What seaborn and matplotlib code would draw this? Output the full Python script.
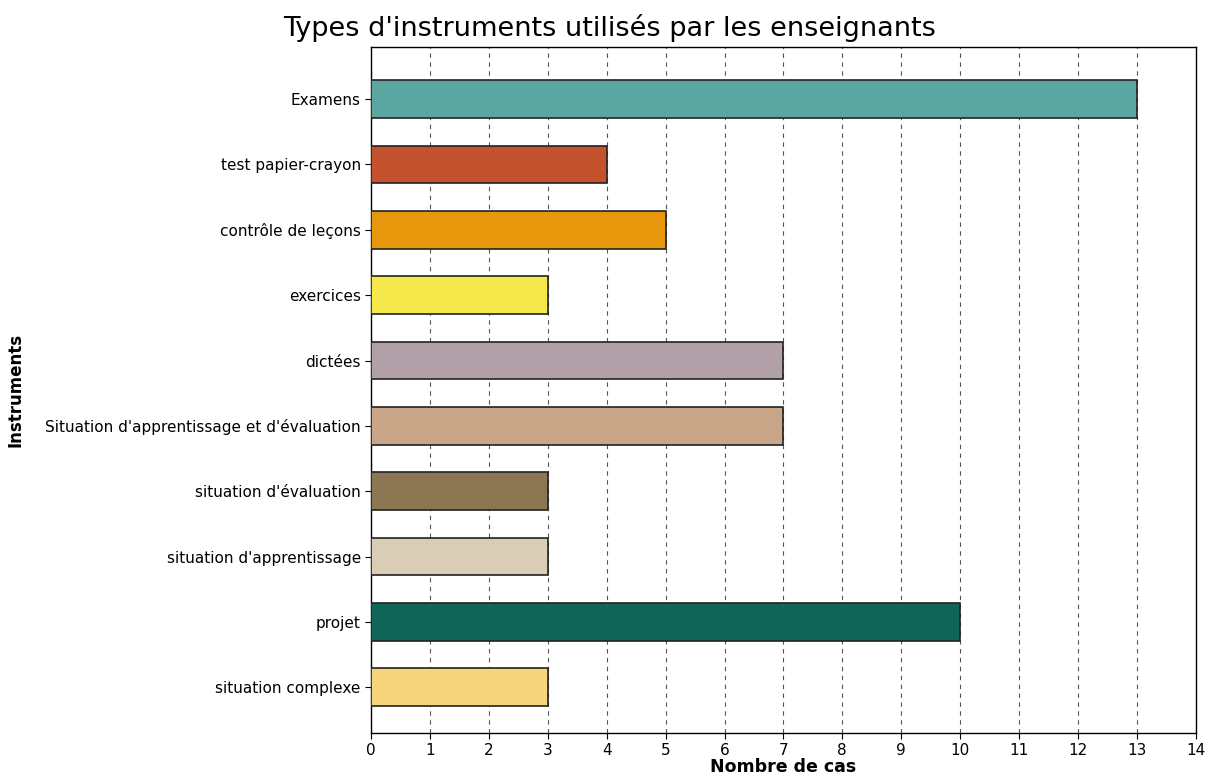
import matplotlib
matplotlib.use("Agg")
import matplotlib.pyplot as plt
import pandas as pd
import seaborn as sns

# Data
instruments = [
    "Examens",
    "test papier-crayon",
    "contrôle de leçons",
    "exercices",
    "dictées",
    "Situation d'apprentissage et d'évaluation",
    "situation d'évaluation",
    "situation d'apprentissage",
    "projet",
    "situation complexe",
]
counts = [13, 4, 5, 3, 7, 7, 3, 3, 10, 3]
bar_colors = [
    "#5BA6A0", "#C4522F", "#E7970B", "#F4E84A", "#B1A0A8",
    "#C9A687", "#8B7752", "#D9CEB5", "#0F6657", "#F6D57D",
]
x_ticks = list(range(0, 15))

df = pd.DataFrame({"Instruments": instruments, "Nombre de cas": counts})

sns.set_style("white")
plt.rcParams["font.family"] = ["DejaVu Sans"]
plt.rcParams["text.color"] = "black"
plt.rcParams["axes.labelcolor"] = "black"

fig = plt.figure(figsize=(12.25, 7.81), dpi=100)
ax = fig.add_axes([0.303, 0.0615, 0.673, 0.8785])

sns.barplot(data=df, y="Instruments", x="Nombre de cas", hue="Instruments",
            palette=bar_colors, saturation=1, legend=False, orient="h", width=0.58,
            edgecolor="#222222", linewidth=1.2, ax=ax, zorder=3)

ax.set_xlim(0, 14)
ax.set_ylim(9.7, -0.8)
ax.set_xticks(x_ticks)
ax.xaxis.grid(True, linestyle=(0, (4, 4)), color="#555555", linewidth=0.8, zorder=0)
ax.set_axisbelow(True)
ax.tick_params(axis="both", bottom=True, left=True, direction="out", length=4,
               width=0.8, labelsize=11, colors="black")
for spine in ax.spines.values():
    spine.set_color("black")
    spine.set_linewidth(1.0)

ax.set_xlabel("Nombre de cas", fontsize=12.5, fontweight="bold", labelpad=0)
ax.set_ylabel("Instruments", fontsize=12, fontweight="bold")
ax.yaxis.set_label_coords(-0.42, 0.5)
fig.suptitle("Types d'instruments utilisés par les enseignants", fontsize=19.5,
             x=0.498, y=0.982, color="black")

fig.savefig("out.png", dpi=100)
